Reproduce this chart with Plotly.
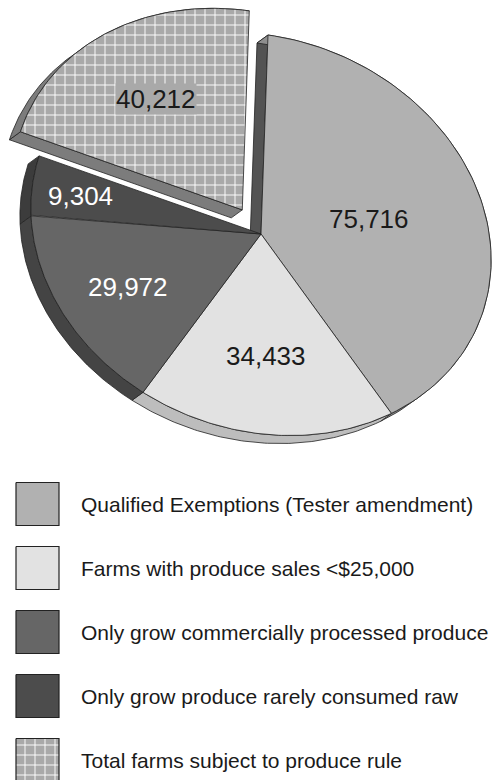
import numpy as np
import plotly.graph_objects as go

# ---- data -------------------------------------------------------------
categories = [
    "Qualified Exemptions (Tester amendment)",
    "Farms with produce sales <$25,000",
    "Only grow commercially processed produce",
    "Only grow produce rarely consumed raw",
    "Total farms subject to produce rule",
]
values = [75716, 34433, 29972, 9304, 40212]
exploded = [False, False, False, False, True]

# ---- styling ----------------------------------------------------------
top_colors = ["#b1b1b1", "#e2e2e2", "#666666", "#4c4c4c", "#a9a9a9"]
rim_colors = ["#8e8e8e", "#bdbdbd", "#444444", "#3c3c3c", "#7c7c7c"]
cut_colors = ["#535353", "#bdbdbd", "#444444", "#3c3c3c", "#7c7c7c"]
text_colors = ["#1a1a1a", "#1a1a1a", "#ffffff", "#ffffff", "#1a1a1a"]
patterned = [False, False, False, False, True]
label_radius = [0.49, 0.61, 0.67, 0.79, 0.63]

W, H = 496, 780
FONT = "Liberation Sans, Arial, Helvetica, sans-serif"
EDGE = dict(color="#222222", width=0.8)
GRID = dict(shape="+", bgcolor="#a9a9a9", fgcolor="#ffffff", size=10,
            solidity=0.18, fillmode="replace")

# tilted disc: unit circle (u, v) -> page pixels
CENTER = np.array([261.0, 234.0])
TILT = np.array([[230.0, -7.0], [32.0, 199.0]])
DEPTH = np.array([-11.0, 8.0])      # extrusion of the disc
PULL = 0.137                        # explode distance (fraction of radius)

# legend layout
SW_X, SW_SIZE = 16, 43
ROW0, ROW_STEP = 504, 64
TEXT_X = 79


def unit(theta):
    theta = np.atleast_1d(theta)
    return np.vstack([np.sin(theta), -np.cos(theta)])


def to_page(theta, origin, r=1.0):
    return (origin[:, None] + r * (TILT @ unit(theta))).T


def cross(a, b):
    return a[0] * b[1] - a[1] * b[0]


def poly_trace(pts, color, pattern=None):
    pts = np.vstack([pts, pts[:1]])
    kw = dict(fillpattern=pattern) if pattern else {}
    return go.Scatter(x=pts[:, 0], y=pts[:, 1], mode="lines", fill="toself",
                      fillcolor=color, line=EDGE, hoverinfo="skip",
                      showlegend=False, **kw)


total = float(sum(values))
edges = 2 * np.pi * np.concatenate([[0.0], np.cumsum(values)]) / total
n = len(values)

cut_walls, rim_walls, tops, annotations = [], [], [], []
for i in range(n):
    a0, a1 = edges[i], edges[i + 1]
    mid = 0.5 * (a0 + a1)
    origin = CENTER.copy()
    if exploded[i]:
        origin = origin + PULL * (TILT @ unit(mid))[:, 0]

    t = np.linspace(a0, a1, 90)
    arc = to_page(t, origin)

    # radial cut faces, drawn only where a gap exposes them
    for a, inner, nb in ((a0, a0 + 0.01, (i - 1) % n), (a1, a1 - 0.01, (i + 1) % n)):
        if not (exploded[i] or exploded[nb]):
            continue
        p = to_page(a, origin)[0]
        q = to_page(inner, origin)[0]
        e = p - origin
        if cross(e, DEPTH) * cross(e, q - origin) < 0:
            quad = np.array([origin, p, p + DEPTH, origin + DEPTH])
            cut_walls.append(poly_trace(quad, cut_colors[i]))

    # outer rim
    rim = np.vstack([arc, (arc + DEPTH)[::-1]])
    rim_walls.append(poly_trace(rim, rim_colors[i]))

    # top face
    top = np.vstack([origin[None, :], arc])
    tops.append(poly_trace(top, top_colors[i], GRID if patterned[i] else None))

    lx, ly = to_page(mid, origin, label_radius[i])[0]
    annotations.append(dict(
        x=lx, y=ly, xref="x", yref="y", text=f"{values[i]:,}", showarrow=False,
        font=dict(family=FONT, size=26, color=text_colors[i]),
        bgcolor=top_colors[i] if patterned[i] else None, borderpad=0,
        xanchor="center", yanchor="middle"))

# legend swatches and texts
legend = []
for i, name in enumerate(categories):
    yc = ROW0 + i * ROW_STEP
    sq = np.array([[SW_X, yc - SW_SIZE / 2], [SW_X + SW_SIZE, yc - SW_SIZE / 2],
                   [SW_X + SW_SIZE, yc + SW_SIZE / 2], [SW_X, yc + SW_SIZE / 2]])
    tr = poly_trace(sq, top_colors[i], GRID if patterned[i] else None)
    tr.line = dict(color="#222222", width=1.2)
    legend.append(tr)
    annotations.append(dict(
        x=TEXT_X, y=yc, xref="x", yref="y", text=name.replace("<", "&lt;"),
        showarrow=False, font=dict(family=FONT, size=21, color="#1a1a1a"),
        xanchor="left", yanchor="middle"))

fig = go.Figure(cut_walls + rim_walls + tops + legend)
fig.update_layout(
    width=W, height=H, autosize=False,
    margin=dict(l=0, r=0, t=0, b=0),
    paper_bgcolor="white", plot_bgcolor="white",
    xaxis=dict(range=[0, W], visible=False, fixedrange=True),
    yaxis=dict(range=[H, 0], visible=False, fixedrange=True),
    annotations=annotations, showlegend=False,
)
fig.write_html("out.html", config={"displayModeBar": False})
